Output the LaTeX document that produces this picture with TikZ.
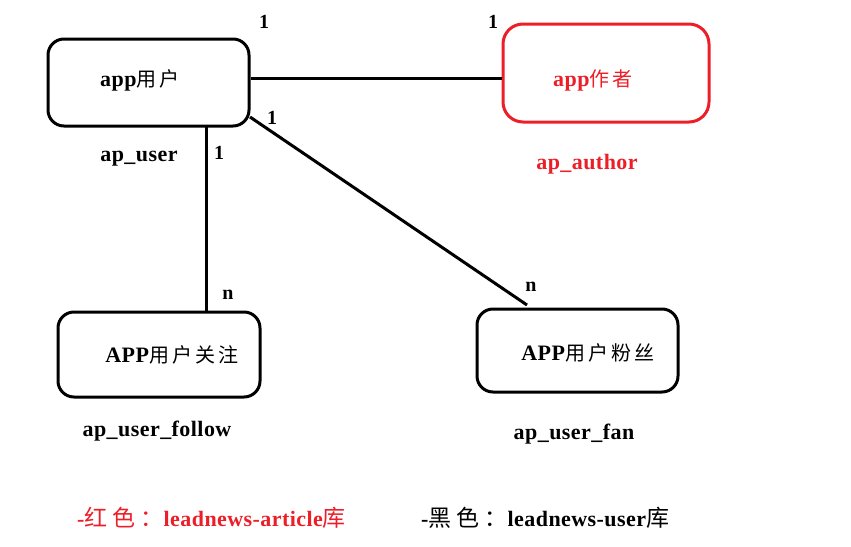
\documentclass[tikz,border=0pt]{standalone}
\usepackage{fontspec}
\setmainfont{Liberation Serif}[LetterSpace=2]
\newfontfamily\cjkfam{Noto Sans CJK SC}[LetterSpace=16]
\newfontfamily\cjkwide{Noto Sans CJK SC}[LetterSpace=22]
\newcommand{\zh}[1]{{\fontsize{20}{24}\mdseries\cjkfam #1}}
\newcommand{\zhb}[1]{{\fontsize{23}{26}\mdseries\cjkwide #1}}
\definecolor{myred}{RGB}{236,30,40}
\begin{document}
\begin{tikzpicture}[x=1pt,y=-1pt,
  ent/.style={draw,line width=3pt,rounded corners=16pt,inner sep=0pt},
  lbl/.style={font=\fontsize{22}{26}\selectfont\bfseries,inner sep=0pt},
  card/.style={font=\fontsize{20}{22}\selectfont\bfseries,inner sep=0pt},
  conn/.style={line width=3pt}]
\useasboundingbox (0,0) rectangle (851,546);
\node[ent,minimum width=201pt,minimum height=87pt] (user) at (148.5,82.5) {};
\node[ent,draw=myred,rounded corners=20pt,minimum width=206pt,minimum height=98pt] (author) at (606,73) {};
\node[ent,minimum width=202pt,minimum height=85pt] (follow) at (159,354.5) {};
\node[ent,minimum width=201pt,minimum height=83pt] (fan) at (577.5,350.5) {};
\node[lbl] (userT) at (140,80) {app\zh{用户}};
\node[lbl,text=myred] (authorT) at (593,80) {app\zh{作者}};
\node[lbl] (followT) at (172,355) {APP\zh{用户关注}};
\node[lbl] (fanT) at (588,353) {APP\zh{用户粉丝}};
\coordinate (uh) at (user.east |- 0,78);
\coordinate (ah) at (author.west |- 0,78);
\coordinate (uv) at (206,126);
\coordinate (fv) at (206,312);
\coordinate (ud) at (250,117);
\coordinate (fd) at (527,305);
\draw[conn] (uh) -- (ah);
\draw[conn] (uv) -- (fv);
\draw[conn] (ud) -- (fd);
\node[card] (c1) at (264,22) {1};
\node[card] (c2) at (493,22) {1};
\node[card] (c3) at (272,118) {1};
\node[card] (c4) at (219,153) {1};
\node[card] (c5) at (228,295) {n};
\node[card] (c6) at (531,287) {n};
\node[lbl] (t1) at (139,159) {ap\_user};
\node[lbl,text=myred] (t2) at (587,164) {ap\_author};
\node[lbl] (t3) at (157,431) {ap\_user\_follow};
\node[lbl] (t4) at (574,434) {ap\_user\_fan};
\node[lbl,text=myred,anchor=west] (l1) at (77,518) {-\zhb{红色：}leadnews-article\zhb{库}};
\node[lbl,anchor=west] (l2) at (421,518) {-\zhb{黑色：}leadnews-user\zhb{库}};
\end{tikzpicture}
\end{document}
